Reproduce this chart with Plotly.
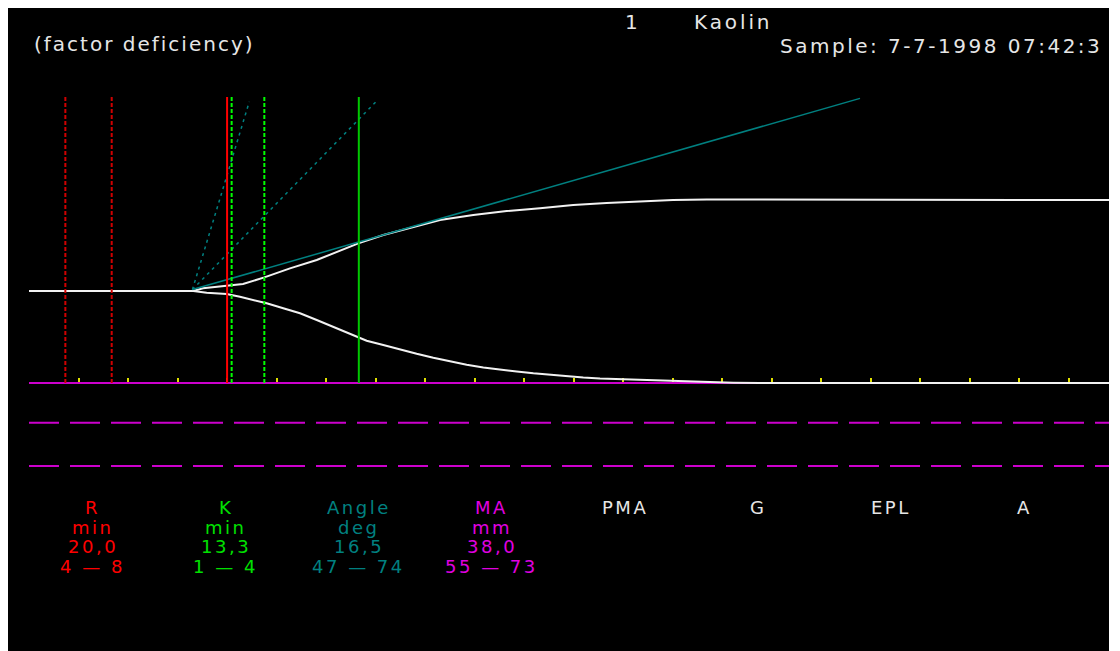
import plotly.graph_objects as go

# ---------------- data ----------------
# thromboelastogram tracing: time in minutes, half-amplitude in mm about the centre line
upper_t = [0, 16.56, 17.57, 19.96, 21.61, 23.76, 26.35, 29.05, 31.07, 33.25, 35.77, 38.13,
           41.49, 44.86, 48.23, 51.59, 54.95, 58.32, 61.69, 65.02, 68.45, 109.04]
upper_mm = [0, 0, 0.56, 1.04, 1.45, 2.84, 4.71, 6.44, 8.16, 9.90, 11.63, 12.87,
            14.74, 15.78, 16.61, 17.17, 17.86, 18.27, 18.63, 18.90, 19.0, 18.9]
lower_t = [0, 16.59, 17.94, 19.96, 21.30, 22.65, 24.00, 25.67, 27.36, 29.05,
           30.72, 32.41, 33.25, 34.09, 35.77, 37.46, 39.14, 40.82, 42.50, 44.19,
           45.87, 47.55, 49.24, 50.92, 52.60, 54.29, 55.96, 57.65, 61.01, 64.38,
           67.74, 71.11, 73.8, 109.04]
lower_mm = [0, 0, -0.35, -0.62, -1.18, -1.87, -2.55, -3.59, -4.63, -6.02,
            -7.41, -8.78, -9.49, -10.32, -11.21, -12.20, -13.04, -13.87, -14.60, -15.30,
            -15.90, -16.35, -16.72, -17.09, -17.40, -17.65, -17.95, -18.15, -18.40, -18.63,
            -18.83, -19.04, -19.10, -19.10]

baseline_mm = -19.1          # bottom of the tracing (axis line)
marker_top_mm = 40.3         # top of the vertical marker lines
r_range_min = [3.67, 8.35]   # dashed red
r_min = 20.0                 # R
k_range_min = [20.46, 23.76] # dashed green
rk_min = 33.3                # R + K
angle_origin = [16.5, 0.3]
tangent_end = [83.9, 40.0]
angle_range_ends = [[22.24, 39.3], [35.1, 39.45]]
guide_levels_mm = [-27.35, -36.34]
tick_step_min = 5

params = ["R", "K", "Angle", "MA", "PMA", "G", "EPL", "A"]
units = ["min", "min", "deg", "mm", "", "", "", ""]
values = ["20,0", "13,3", "16,5", "38,0", "", "", "", ""]
ranges = ["4 — 8", "1 — 4", "47 — 74", "55 — 73", "", "", "", ""]

# ---------------- styling ----------------
RED = "#ff0000"; RED_D = "#d00000"
GREEN = "#00c800"; GREEN_D = "#00ff00"; GREEN_T = "#00e000"
TEAL = "#008080"
MAG = "#cc00cc"; MAG_T = "#e000e0"
YEL = "#e0e000"
WHITE = "#f2f2f2"; TXT = "#e6e6e6"
FONT = "DejaVu Sans"

W, H = 1101, 643
ML, MT, MB = 21, 52, 171
PW, PH = W - ML, H - MT - MB
X_RANGE = [0, 109.04]
Y_RANGE = [-39.24, 47.97]

fig = go.Figure()

# magenta dashed guide lines
for lv in guide_levels_mm:
    fig.add_trace(go.Scatter(x=[X_RANGE[0], X_RANGE[1]], y=[lv, lv], mode="lines",
                             line=dict(color=MAG, width=2, dash="30px,11px")))

# tracing
fig.add_trace(go.Scatter(x=upper_t, y=upper_mm, mode="lines", line=dict(color=WHITE, width=2)))
fig.add_trace(go.Scatter(x=lower_t, y=lower_mm, mode="lines", line=dict(color=WHITE, width=2)))

# angle lines
fig.add_trace(go.Scatter(x=[angle_origin[0], tangent_end[0]], y=[angle_origin[1], tangent_end[1]],
                         mode="lines", line=dict(color=TEAL, width=1.5)))
for e in angle_range_ends:
    fig.add_trace(go.Scatter(x=[angle_origin[0], e[0]], y=[angle_origin[1], e[1]],
                             mode="lines", line=dict(color=TEAL, width=1.5, dash="3px,4px")))

# vertical markers
def vline(xv, color, dash):
    fig.add_trace(go.Scatter(x=[xv, xv], y=[baseline_mm, marker_top_mm], mode="lines",
                             line=dict(color=color, width=2, dash=dash)))

for xv in r_range_min:
    vline(xv, RED_D, "4px,2px")
for xv in k_range_min:
    vline(xv, GREEN_D, "4px,2px")
vline(r_min, RED, "solid")
vline(rk_min, GREEN, "solid")

# ---------------- annotations ----------------
def ann(text, rx, ry, color, size, ls, anchor="center"):
    fx, fy = rx - 8, ry - 8
    return dict(text=f'<span style="letter-spacing:{ls}px">{text}</span>',
                x=(fx - ML) / PW, y=(MT + PH - fy) / PH, xref="paper", yref="paper",
                xanchor=anchor, yanchor="middle", showarrow=False,
                font=dict(family=FONT, size=size, color=color))

annotations = [
    ann("(factor deficiency)", 32, 44.1, TXT, 20, 2.0, "left"),
    ann("1", 622.5, 21.5, TXT, 20, 0, "left"),
    ann("Kaolin", 692, 21.5, TXT, 20, 2.9, "left"),
    ann("Sample: 7-7-1998 07:42:3", 778, 45.6, TXT, 20, 2.5, "left"),
]
col_colors = [RED, GREEN_T, TEAL, MAG_T, TXT, TXT, TXT, TXT]
row_y = [507.8, 527.1, 546.5, 566.5]
for i, p in enumerate(params):
    cx = 92.5 + 133.1 * i
    for txt, ry in zip([p, units[i], values[i], ranges[i]], row_y):
        if txt:
            annotations.append(ann(txt, cx, ry, col_colors[i], 18, 2.5))

base_pos = (baseline_mm - Y_RANGE[0]) / (Y_RANGE[1] - Y_RANGE[0])

fig.update_layout(
    width=W, height=H, margin=dict(l=ML, r=0, t=MT, b=MB, pad=0),
    paper_bgcolor="black", plot_bgcolor="black", showlegend=False,
    annotations=annotations,
    xaxis=dict(range=X_RANGE, showgrid=False, zeroline=False, showticklabels=False,
               ticks="inside", tick0=0, dtick=tick_step_min, ticklen=4, tickwidth=2,
               tickcolor=YEL, showline=True, linecolor=MAG, linewidth=2,
               anchor="free", position=base_pos, layer="below traces", fixedrange=True),
    yaxis=dict(range=Y_RANGE, visible=False, fixedrange=True),
)

fig.write_html("out.html", config={"displayModeBar": False})
